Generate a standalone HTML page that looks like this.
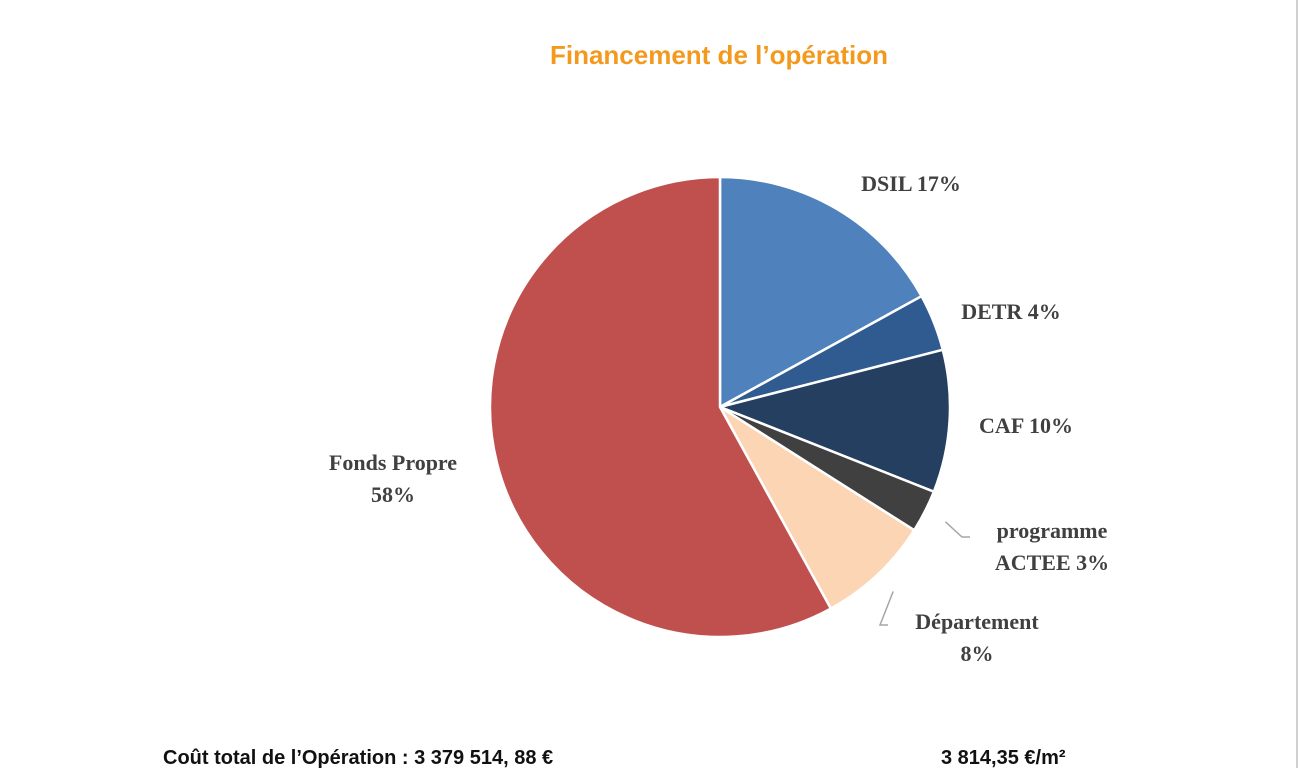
<!DOCTYPE html>
<html><head><meta charset="utf-8"><style>
html,body{margin:0;padding:0;background:#fff;width:1300px;height:768px;overflow:hidden}
svg{display:block}
.lbl{font-family:"Liberation Serif",serif;font-weight:bold;font-size:22px;fill:#404040}
</style></head><body>
<svg id="chart" width="1300" height="768">
<line x1="1297" y1="0" x2="1297" y2="768" stroke="#d0d0d0" stroke-width="2"/>
<text x="719" y="64" text-anchor="middle" font-family="Liberation Sans,sans-serif" font-weight="bold" font-size="26" fill="#f39a1e">Financement de l’opération</text>
<g id="slices"></g>
<g id="labels"></g>
<text x="163" y="764" font-family="Liberation Sans,sans-serif" font-weight="bold" font-size="20" fill="#111">Coût total de l’Opération : 3 379 514, 88 €</text>
<text x="941" y="764" font-family="Liberation Sans,sans-serif" font-weight="bold" font-size="20" fill="#111">3 814,35 €/m²</text>
</svg>
<script>
const categories = ["DSIL", "DETR", "CAF", "programme ACTEE", "Département", "Fonds Propre"];
const values = [17, 4, 10, 3, 8, 58];
const colors = ["#4f81bd", "#2f5b91", "#243f60", "#404040", "#fcd5b5", "#c0504d"];
const labelLines = [["DSIL 17%"], ["DETR 4%"], ["CAF 10%"], ["programme", "ACTEE 3%"], ["Département", "8%"], ["Fonds Propre", "58%"]];
const labelPos = [[911,191],[1011,319],[1026,433],[1052,538],[977,629],[393,470]];
const cx = 720, cy = 407, r = 230;
const NS = "http://www.w3.org/2000/svg";
const total = values.reduce((a,b)=>a+b,0);
function pt(frac){const a=frac*2*Math.PI;return [cx+r*Math.sin(a), cy-r*Math.cos(a)];}
const gS = document.getElementById("slices"), gL = document.getElementById("labels");
let acc = 0;
values.forEach((v,i)=>{
  const f0 = acc/total, f1 = (acc+v)/total; acc += v;
  const p0 = pt(f0), p1 = pt(f1);
  const large = (f1-f0) > 0.5 ? 1 : 0;
  const p = document.createElementNS(NS,"path");
  p.setAttribute("d",`M${cx},${cy} L${p0[0]},${p0[1]} A${r},${r} 0 ${large} 1 ${p1[0]},${p1[1]} Z`);
  p.setAttribute("fill",colors[i]);
  p.setAttribute("stroke","#fff");
  p.setAttribute("stroke-width","2.5");
  
  
  gS.appendChild(p);
  const t = document.createElementNS(NS,"text");
  t.setAttribute("class","lbl");
  t.setAttribute("text-anchor","middle");
  
  
  labelLines[i].forEach((s,j)=>{
    const ts = document.createElementNS(NS,"tspan");
    ts.setAttribute("x",labelPos[i][0]);
    ts.setAttribute("y",labelPos[i][1]+j*32);
    ts.textContent = s;
    t.appendChild(ts);
  });
  gL.appendChild(t);
  if (i===3 || i===4) {
    const mid = pt((f0+f1)/2);
    const inner = [cx+(mid[0]-cx)*0.93, cy+(mid[1]-cy)*0.93];
    const out = [cx+(mid[0]-cx)*1.1, cy+(mid[1]-cy)*1.1];
    const ex = i===3 ? [labelPos[i][0]-82, labelPos[i][1]-1] : [labelPos[i][0]-89, labelPos[i][1]-4];
    const l = document.createElementNS(NS,"polyline");
    l.setAttribute("points",`${out[0]},${out[1]} ${ex[0]-8},${ex[1]} ${ex[0]},${ex[1]}`);
    l.setAttribute("fill","none");
    l.setAttribute("stroke","#a6a6a6");
    l.setAttribute("stroke-width","1.5");
    
    
    gL.appendChild(l);
  }
});
</script>
</body></html>
